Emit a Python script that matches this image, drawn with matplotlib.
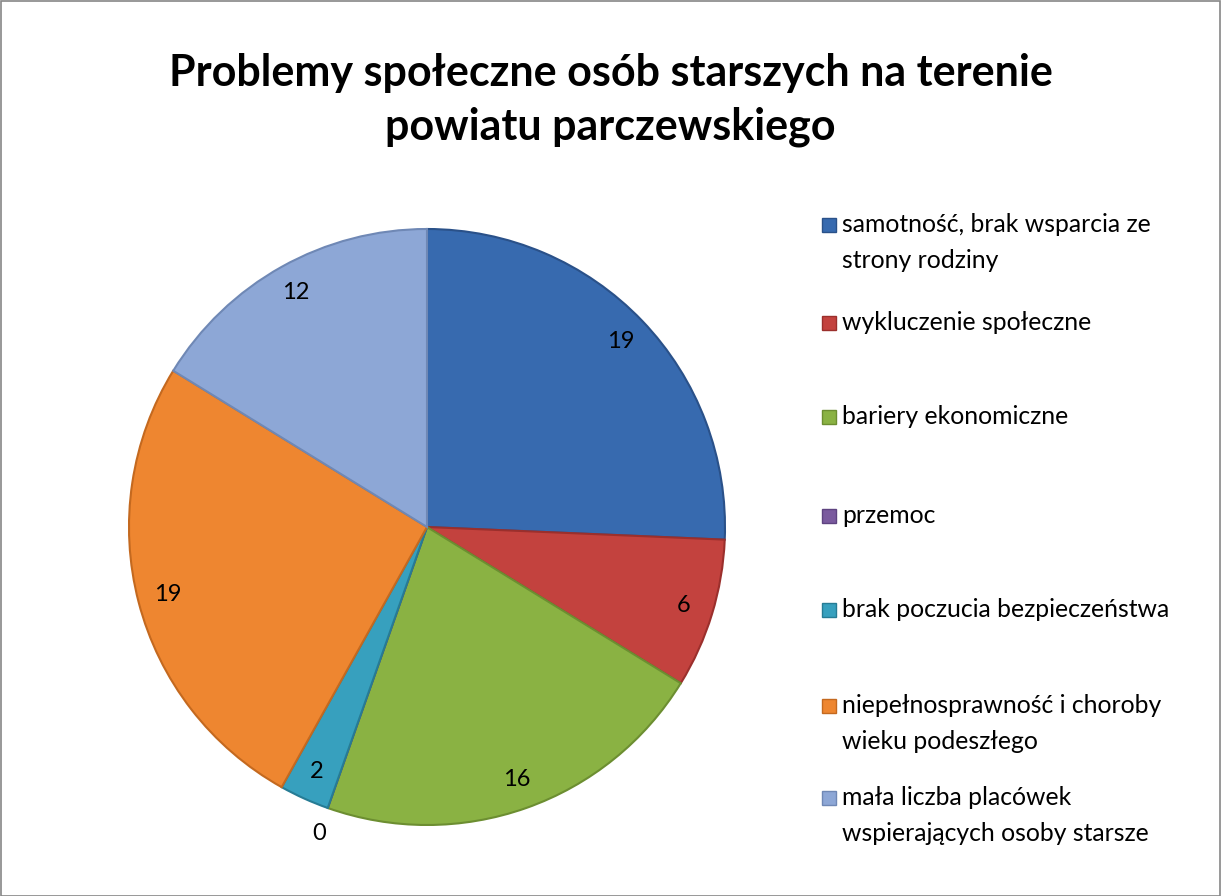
import numpy as np
import matplotlib
matplotlib.use("Agg")
import matplotlib.pyplot as plt
from matplotlib.patches import Rectangle

plt.rcParams['font.family'] = ['Lato', 'DejaVu Sans']

title = "Problemy społeczne osób starszych na terenie\npowiatu parczewskiego"
categories = [
    "samotność, brak wsparcia ze\nstrony rodziny",
    "wykluczenie społeczne",
    "bariery ekonomiczne",
    "przemoc",
    "brak poczucia bezpieczeństwa",
    "niepełnosprawność i choroby\nwieku podeszłego",
    "mała liczba placówek\nwspierających osoby starsze",
]
values = [19, 6, 16, 0, 2, 19, 12]
colors = ["#376AAF", "#C3423E", "#8AB243", "#7A5A9E", "#37A0BE", "#EE8630", "#8DA7D6"]
edge_colors = ["#2A5189", "#9B2F2C", "#6C8E31", "#5E4380", "#267C95", "#C4691F", "#6F88B5"]

W, H = 1221, 896
fig = plt.figure(figsize=(W / 100, H / 100), dpi=100)
fig.patch.set_facecolor("white")

# border
fig.add_artist(Rectangle((0.5 / W, 0.5 / H), 1 - 1.5 / W, 1 - 1.5 / H, transform=fig.transFigure,
                         fill=False, edgecolor="#868686", linewidth=1.2))

fig.text(0.5, 1 - 100 / H, title, ha="center", va="center", fontsize=31, fontweight="bold",
         linespacing=1.4, color="black")

# pie axes: center (427,527), radius 298 px
cx, cy, r = 427, 527, 298
ax = fig.add_axes([(cx - r) / W, (H - cy - r) / H, 2 * r / W, 2 * r / H])
wedges, _ = ax.pie(values, colors=colors, startangle=90, counterclock=False, radius=1,
                   wedgeprops=dict(linewidth=1.0, edgecolor="white"))
for w, ec in zip(wedges, edge_colors):
    w.set_edgecolor(ec)
    w.set_linewidth(1.5)
ax.set_xlim(-1, 1)
ax.set_ylim(-1, 1)
ax.set_aspect("equal")
ax.axis("off")

for w, v in zip(wedges, values):
    mid = np.deg2rad((w.theta1 + w.theta2) / 2)
    d = 1.09 if v == 0 else 0.9
    ax.text(d * np.cos(mid), d * np.sin(mid), str(v), ha="center", va="center", fontsize=17,
            color="black")

# legend (manual, first line aligned with marker)
leg_y = [225, 323, 417, 516, 610, 706, 798]
for lab, c, ec, y in zip(categories, colors, edge_colors, leg_y):
    fig.add_artist(Rectangle((822 / W, 1 - (y + 7) / H), 14 / W, 14 / H, transform=fig.transFigure,
                             facecolor=c, edgecolor=ec, linewidth=1))
    fig.text(842 / W, 1 - (y - 12) / H, lab, ha="left", va="top", fontsize=17.8,
             linespacing=1.68, color="black")

fig.savefig("out.png", dpi=100)
